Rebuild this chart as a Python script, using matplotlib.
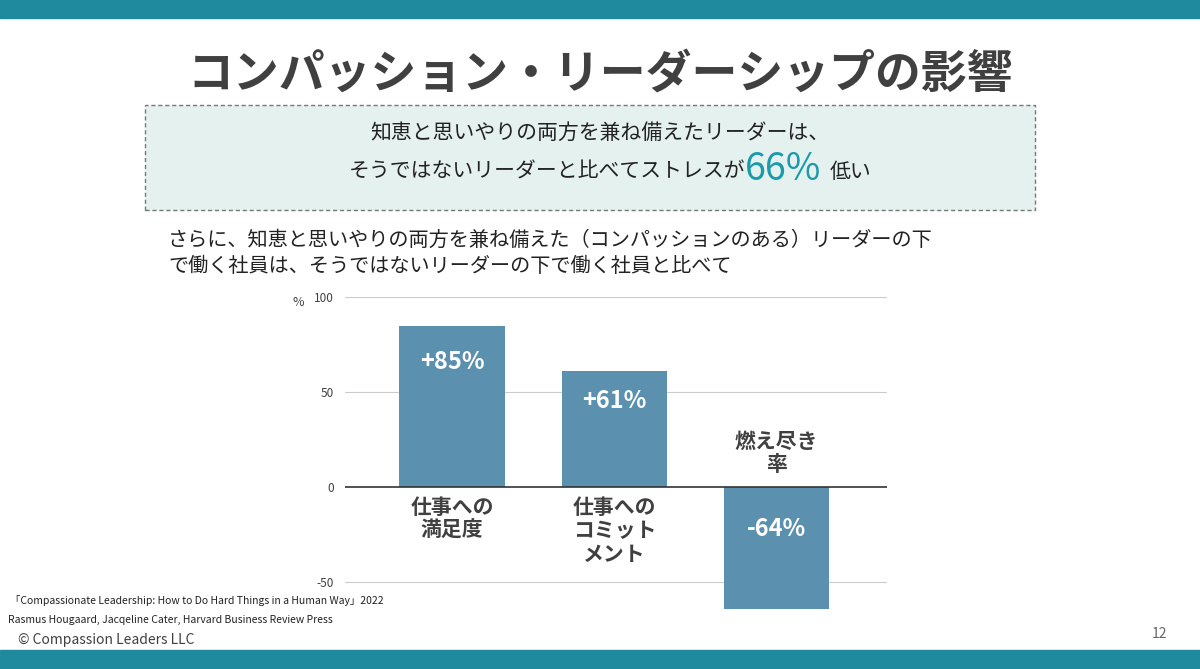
import matplotlib
matplotlib.use('Agg')
import matplotlib.pyplot as plt
from matplotlib.patches import Rectangle

plt.rcParams['font.family'] = ['Noto Sans CJK JP', 'DejaVu Sans']

categories = ['仕事への\n満足度', '仕事への\nコミット\nメント', '燃え尽き\n率']
values = [85, 61, -64]
value_labels = ['+85%', '+61%', '-64%']
yticks = [100, 50, 0, -50]

W, H = 1200, 669
TEAL = '#1f8a9e'
DARK = '#404040'
BAR = '#5b90ae'


def fx(px):
    return px / W


def fy(py):
    return 1 - py / H


fig = plt.figure(figsize=(12, 6.69), dpi=100)
fig.patch.set_facecolor('white')

# top / bottom bands
fig.add_artist(Rectangle((0, fy(18)), 1, 18 / H, transform=fig.transFigure, color=TEAL))
fig.add_artist(Rectangle((0, 0), 1, 19 / H, transform=fig.transFigure, color=TEAL))

fig.text(0.5, fy(75), 'コンパッション・リーダーシップの影響', ha='center', va='center',
         fontsize=33, fontweight='bold', color=DARK)

fig.add_artist(Rectangle((fx(145), fy(210)), 890 / W, 105 / H, transform=fig.transFigure,
                         facecolor='#e4f1ef', edgecolor='#777777', linestyle=(0, (3, 2)), lw=1))
fig.text(0.5, fy(133), '知恵と思いやりの両方を兼ね備えたリーダーは、', ha='center', va='center',
         fontsize=15, color='#222222')
fig.text(fx(745), fy(172), 'そうではないリーダーと比べてストレスが', ha='right', va='center',
         fontsize=15, color='#222222')
fig.text(fx(745), fy(170), '66%', ha='left', va='center', fontsize=27, color='#1a9aaa')
fig.text(fx(830), fy(172), '低い', ha='left', va='center', fontsize=15, color='#222222')

fig.text(fx(168), fy(240), 'さらに、知恵と思いやりの両方を兼ね備えた（コンパッションのある）リーダーの下',
         ha='left', va='center', fontsize=14.5, color='#222222')
fig.text(fx(168), fy(267), 'で働く社員は、そうではないリーダーの下で働く社員と比べて',
         ha='left', va='center', fontsize=14.5, color='#222222')

# chart
ax = fig.add_axes([fx(345), fy(610.5), (887 - 345) / W, (610.5 - 297) / H])
x = list(range(len(categories)))
ax.bar(x, values, width=0.65, color=BAR, zorder=3)
ax.set_xlim(-0.66, 2.68)
ax.set_ylim(-65, 100)
ax.set_yticks(yticks)
ax.set_yticklabels([str(t) for t in yticks], fontsize=8.5, color=DARK)
ax.tick_params(length=0, pad=8)
ax.set_xticks([])
for s in ax.spines.values():
    s.set_visible(False)
for t in yticks:
    ax.axhline(t, color='#333333' if t == 0 else '#cccccc', lw=1.2 if t == 0 else 0.8, zorder=1 if t else 4)
ax.patch.set_alpha(0)

label_y = [66, 45, -22]
for xi, lbl, ly in zip(x, value_labels, label_y):
    ax.text(xi, ly, lbl, ha='center', va='center', color='white', fontsize=17, fontweight='bold', zorder=5)

cat_y = [-5, -5, 18]
cat_va = ['top', 'top', 'center']
for xi, c, cy, va in zip(x, categories, cat_y, cat_va):
    ax.text(xi, cy, c, ha='center', va=va, color=DARK, fontsize=15, fontweight='bold',
            linespacing=1.15, zorder=5)

fig.text(fx(298), fy(303), '%', ha='center', va='center', fontsize=9, color=DARK)

fig.text(fx(10), fy(600), '「Compassionate Leadership: How to Do Hard Things in a Human Way」2022',
         ha='left', va='center', fontsize=7.5, color='#222222')
fig.text(fx(8), fy(620), 'Rasmus Hougaard, Jacqeline Cater, Harvard Business Review Press',
         ha='left', va='center', fontsize=7.5, color='#222222')
fig.text(fx(18), fy(640), '© Compassion Leaders LLC', ha='left', va='center', fontsize=10, color=DARK)
fig.text(fx(1167), fy(634), '12', ha='right', va='center', fontsize=10, color='#666666')

fig.savefig('out.png', dpi=100)
